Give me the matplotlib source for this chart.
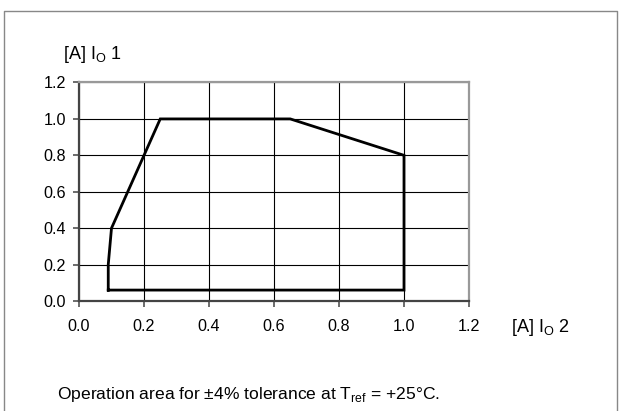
import matplotlib
matplotlib.use('Agg')
import matplotlib.pyplot as plt

plt.rcParams['font.family'] = ['Liberation Sans', 'DejaVu Sans']

# outline of the operating area (Io2, Io1)
io2 = [0.09, 0.09, 0.10, 0.25, 0.65, 1.0, 1.0, 0.09]
io1 = [0.06, 0.20, 0.40, 1.00, 1.00, 0.8, 0.06, 0.06]
xticks = [0.0, 0.2, 0.4, 0.6, 0.8, 1.0, 1.2]
yticks = [0.0, 0.2, 0.4, 0.6, 0.8, 1.0, 1.2]

W, H = 619, 411
fig = plt.figure(figsize=(W / 100, H / 100), dpi=100)

# outer gray frame (open at bottom)
fig.add_artist(plt.Line2D([3.5 / W, 3.5 / W, 617 / W, 617 / W], [0, 1 - 11 / H, 1 - 11 / H, 0],
                          color='#888888', lw=1.0, transform=fig.transFigure))

ax = fig.add_axes([79 / W, 1 - 301 / H, (469 - 79) / W, (301 - 82.5) / H])
ax.set_xlim(0, 1.2)
ax.set_ylim(0, 1.2)
ax.set_xticks(xticks)
ax.set_yticks(yticks)
ax.set_xticklabels(['%.1f' % v for v in xticks])
ax.set_yticklabels(['%.1f' % v for v in yticks])
ax.grid(True, color='black', lw=0.8)
ax.set_axisbelow(True)
for s in ['left', 'bottom']:
    ax.spines[s].set_color('#444444')
    ax.spines[s].set_linewidth(1.6)
for s in ['top', 'right']:
    ax.spines[s].set_color('#999999')
    ax.spines[s].set_linewidth(1.6)
ax.tick_params(axis='both', direction='out', length=4, width=1.1, color='#444444',
               labelsize=11.6)
ax.tick_params(axis='y', pad=5.5)
ax.tick_params(axis='x', pad=9)

ax.plot(io2, io1, color='black', lw=2.0, solid_joinstyle='miter', clip_on=False)

fig.text(63 / W, 1 - 54 / H, '[A] I$_\\mathregular{O}$ 1', fontsize=13, va='center', ha='left')
fig.text(511 / W, 1 - 327 / H, '[A] I$_\\mathregular{O}$ 2', fontsize=13, va='center', ha='left')
fig.text(57 / W, 1 - 394 / H,
         'Operation area for \u00b14% tolerance at T$_\\mathregular{ref}$ = +25\u00b0C.',
         fontsize=12.6, va='center', ha='left')

fig.savefig('out.png', dpi=100)
